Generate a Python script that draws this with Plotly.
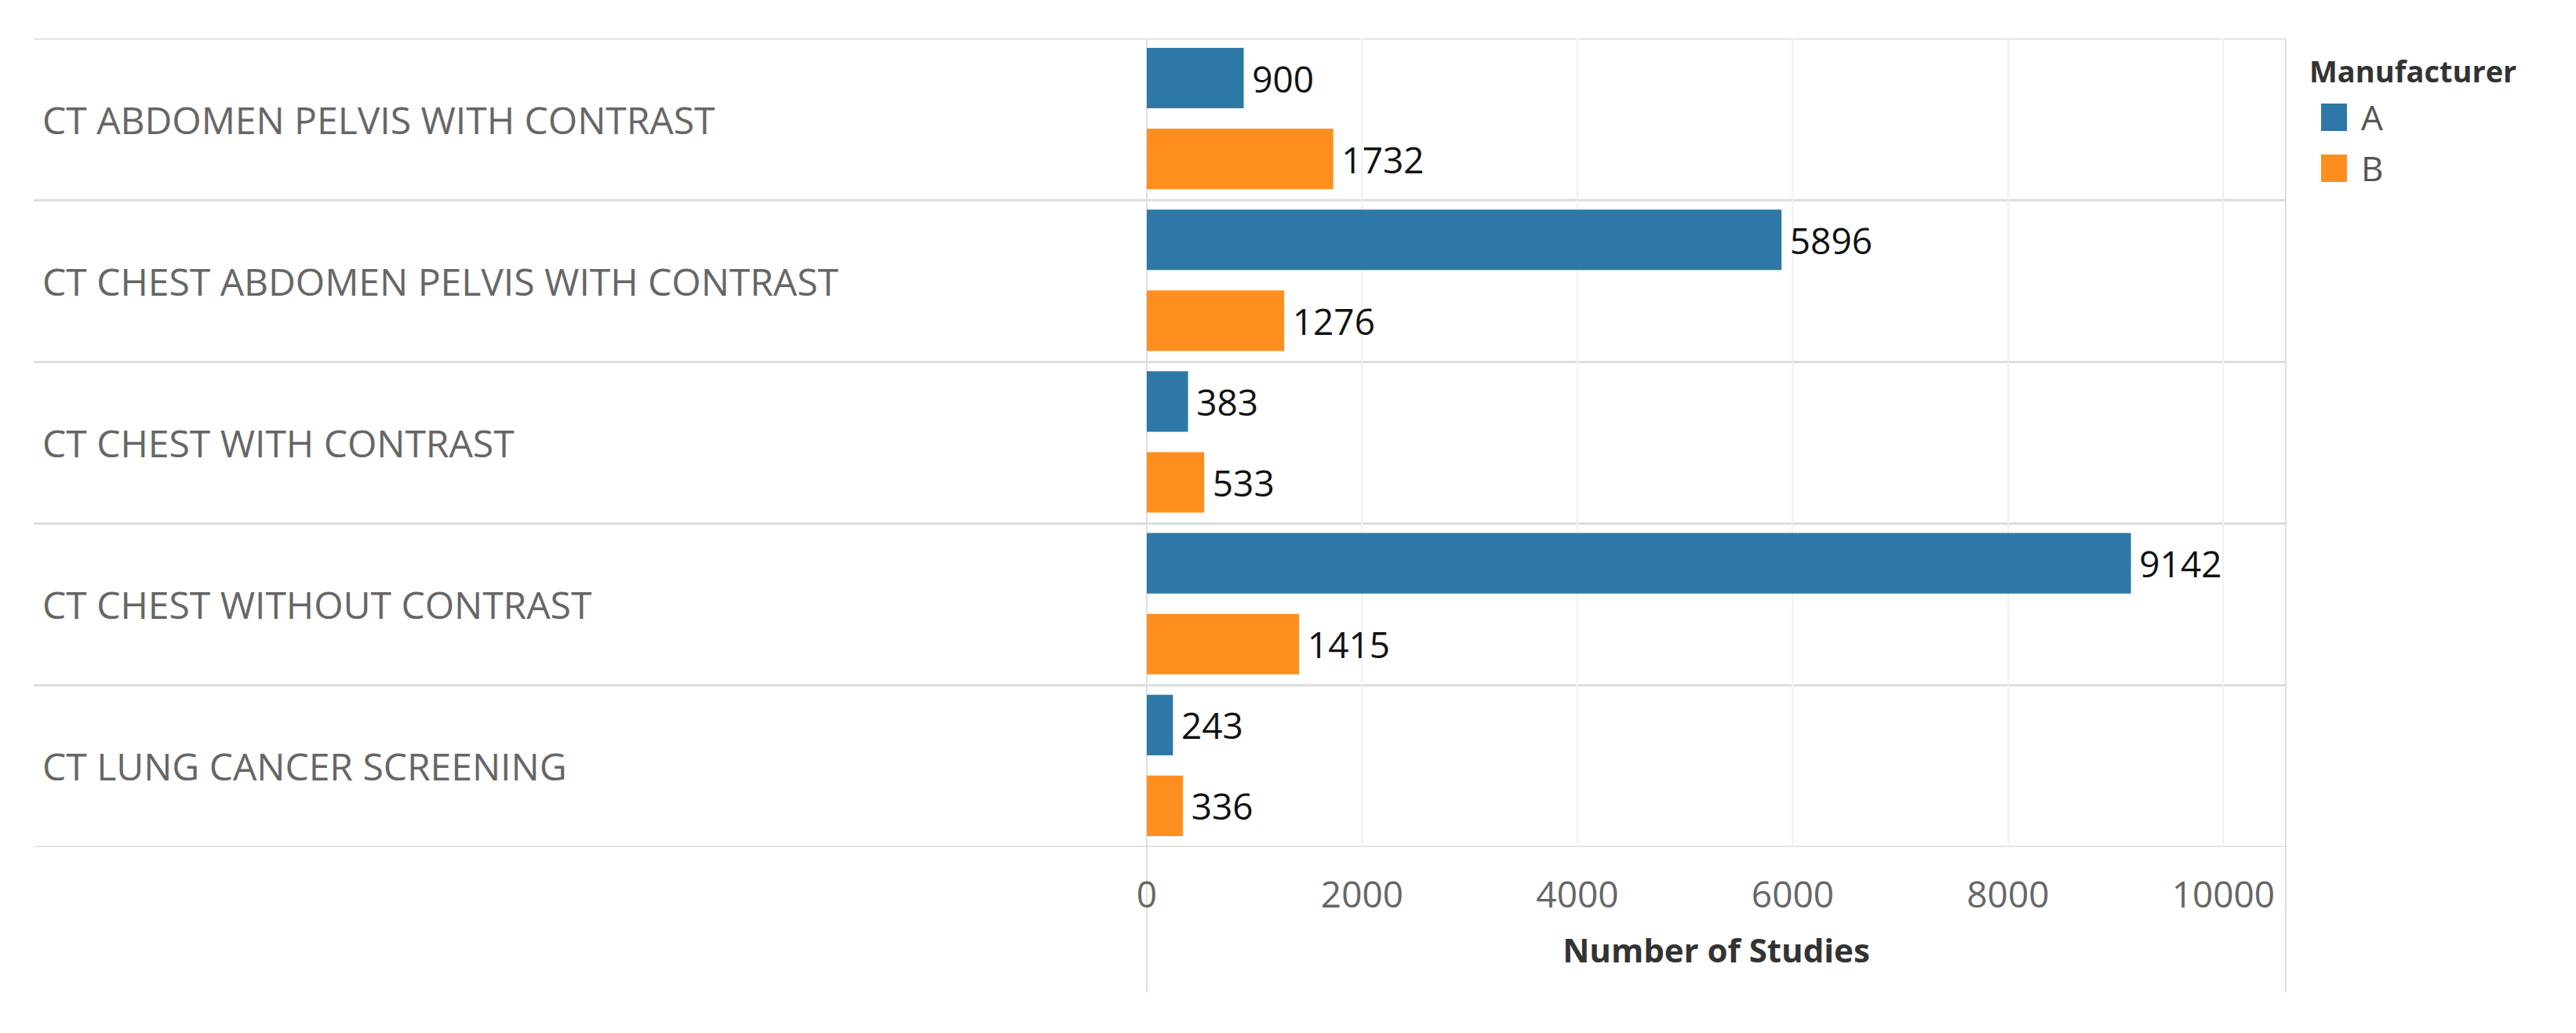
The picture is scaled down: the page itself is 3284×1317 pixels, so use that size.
import plotly.graph_objects as go

categories = [
    "CT ABDOMEN PELVIS WITH CONTRAST",
    "CT CHEST ABDOMEN PELVIS WITH CONTRAST",
    "CT CHEST WITH CONTRAST",
    "CT CHEST WITHOUT CONTRAST",
    "CT LUNG CANCER SCREENING",
]
series_names = ["A", "B"]
values_A = [900, 5896, 383, 9142, 243]
values_B = [1732, 1276, 533, 1415, 336]
tick_values = [0, 2000, 4000, 6000, 8000, 10000]
x_title = "Number of Studies"
legend_title = "Manufacturer"

BLUE = "#2e78a8"
ORANGE = "#fe8f1e"
FONT = "Open Sans"

PAGE = 8  # default page body margin of the html
W, H = 3284 - 2 * PAGE, 1317 - 2 * PAGE
# plot area in screenshot pixels
L, R, T, B = 1462, 2914, 49, 1080


def px(xp):
    return (xp - L) / (R - L)


def py(yp):
    return (B - yp) / (B - T)


fig = go.Figure()
for name, vals, color, off in [
    (series_names[0], values_A, BLUE, -0.442),
    (series_names[1], values_B, ORANGE, 0.058),
]:
    fig.add_trace(go.Bar(
        name=name, y=categories, x=vals, orientation="h",
        width=0.374, offset=off, marker=dict(color=color, line=dict(width=0)),
        text=vals, texttemplate="\u2009%{text}", textposition="outside",
        textfont=dict(family=FONT, size=46, color="#111111"),
        constraintext="none", cliponaxis=False, showlegend=False,
    ))

shapes = []
n = len(categories)
for i in range(n + 1):
    shapes.append(dict(type="line", xref="paper", yref="y",
                       x0=px(43), x1=1, y0=i - 0.5, y1=i - 0.5,
                       line=dict(color="#dcdcdc", width=3), layer="below"))
for xv in [0, 1]:
    shapes.append(dict(type="line", xref="paper", yref="paper",
                       x0=xv, x1=xv, y0=py(1265), y1=1,
                       line=dict(color="#e0e0e0", width=2), layer="below"))

# custom legend
annotations = []
annotations.append(dict(xref="paper", yref="paper", x=px(2942), y=py(90),
                        xanchor="left", yanchor="middle", showarrow=False,
                        text="<b>" + legend_title + "</b>",
                        font=dict(family=FONT, size=38, color="#333333")))
for k, (name, color) in enumerate(zip(series_names, [BLUE, ORANGE])):
    top = 132 + k * 65
    shapes.append(dict(type="rect", xref="paper", yref="paper",
                       x0=px(2959), x1=px(2992), y0=py(top + 35), y1=py(top),
                       fillcolor=color, line=dict(width=0)))
    annotations.append(dict(xref="paper", yref="paper", x=px(3008), y=py(top + 17),
                            xanchor="left", yanchor="middle", showarrow=False,
                            text=name, font=dict(family=FONT, size=44, color="#555555")))

for i, c in enumerate(categories):
    annotations.append(dict(xref="paper", yref="y", x=px(52), y=c,
                            xanchor="left", yanchor="middle", showarrow=False,
                            text=c, font=dict(family=FONT, size=48, color="#666666")))

fig.update_layout(
    width=W, height=H,
    margin=dict(l=L - PAGE, r=W - (R - PAGE), t=T - PAGE, b=H - (B - PAGE), pad=0),
    paper_bgcolor="white", plot_bgcolor="white",
    barmode="overlay",
    showlegend=False,
    shapes=shapes, annotations=annotations,
    font=dict(family=FONT),
    xaxis=dict(
        range=[0, 10580], tickvals=tick_values,
        ticktext=[str(v) for v in tick_values],
        showgrid=True, gridcolor="#f0f0f0", gridwidth=2,
        zeroline=False, showline=False, ticks="",
        ticklabelstandoff=30,
        tickfont=dict(family=FONT, size=46, color="#666666"),
        title=dict(text="<b>" + x_title + "</b>", standoff=28,
                   font=dict(family=FONT, size=42, color="#333333")),
    ),
    yaxis=dict(
        type="category", categoryorder="array", categoryarray=categories,
        range=[n - 0.5, -0.5], showticklabels=False, showgrid=False,
        zeroline=False, showline=False, ticks="",
    ),
)

fig.write_html("out.html")
